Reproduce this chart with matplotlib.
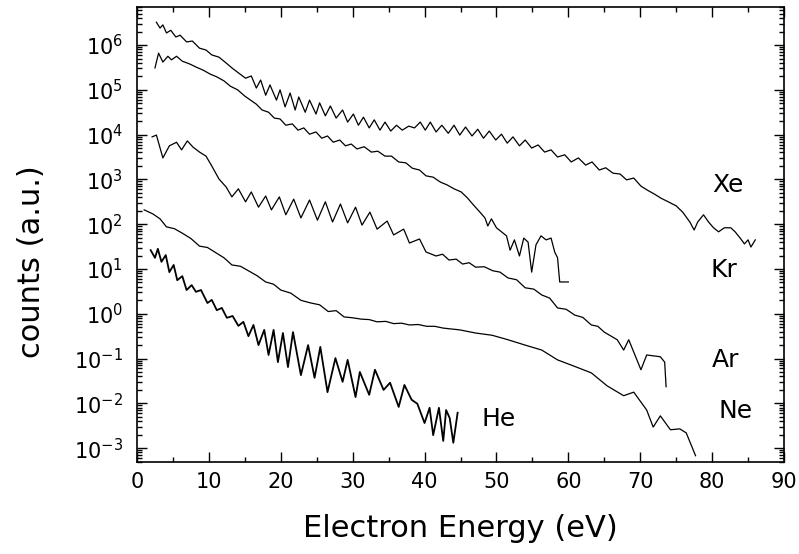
import numpy as np
import matplotlib
matplotlib.use("Agg")
import matplotlib.pyplot as plt
from matplotlib.ticker import MultipleLocator, LogLocator, NullFormatter

# --- SPECTRA (electron energy in eV, log10 of counts) ---
XE_E = [2.7, 3.2, 3.6, 4.1, 4.7, 5.4, 6.0, 6.9, 7.7, 8.7,
        9.6, 10.4, 11.4, 12.4, 13.2, 14.1, 15.1, 15.9, 16.6, 17.2,
        17.9, 18.5, 19.4, 19.9, 20.6, 21.3, 22.0, 22.5, 23.4, 24.0,
        24.9, 25.4, 26.2, 26.9, 27.7, 28.6, 29.3, 30.1, 30.8, 31.5,
        32.3, 33.0, 33.8, 34.5, 35.3, 36.1, 36.9, 37.8, 38.6, 39.4,
        40.1, 40.8, 41.6, 42.4, 43.3, 44.1, 44.9, 45.7, 46.6, 47.4,
        48.2, 49.0, 49.9, 50.7, 51.5, 52.3, 53.2, 54.0, 54.9, 55.8,
        56.7, 57.6, 58.5, 59.5, 60.4, 61.4, 62.4, 63.3, 64.3, 65.2,
        66.2, 67.2, 68.1, 69.1, 70.1, 71.0, 72.0, 72.9, 73.9, 75.0,
        75.9, 76.9, 77.5, 78.0, 78.8, 79.5, 80.2, 80.9, 81.7, 82.6,
        83.2, 83.9, 84.5, 85.0, 85.4, 86.0]
XE_L = [6.51, 6.38, 6.45, 6.27, 6.33, 6.18, 6.22, 6.07, 6.09, 5.93,
        5.89, 5.78, 5.73, 5.60, 5.49, 5.38, 5.26, 5.31, 5.04, 5.22,
        4.88, 5.11, 4.77, 5.00, 4.62, 4.93, 4.55, 4.84, 4.50, 4.77,
        4.46, 4.71, 4.42, 4.64, 4.37, 4.55, 4.28, 4.46, 4.21, 4.39,
        4.15, 4.33, 4.10, 4.28, 4.08, 4.21, 4.10, 4.19, 4.15, 4.28,
        4.10, 4.28, 4.06, 4.21, 4.03, 4.21, 3.99, 4.17, 3.97, 4.12,
        3.92, 4.08, 3.88, 4.01, 3.81, 3.95, 3.75, 3.88, 3.70, 3.77,
        3.61, 3.66, 3.50, 3.55, 3.39, 3.48, 3.32, 3.39, 3.21, 3.26,
        3.14, 3.12, 2.99, 3.03, 2.85, 2.76, 2.67, 2.58, 2.50, 2.41,
        2.27, 2.05, 1.87, 2.05, 2.21, 2.05, 1.92, 1.83, 1.92, 1.92,
        1.83, 1.69, 1.56, 1.65, 1.49, 1.65]

KR_E = [2.5, 3.0, 3.6, 4.3, 4.8, 5.5, 6.3, 7.3, 8.2, 9.2,
        10.2, 11.1, 12.1, 13.0, 14.0, 15.0, 15.8, 16.6, 17.4, 18.3,
        19.1, 19.9, 20.7, 21.6, 22.4, 23.2, 24.0, 24.9, 25.7, 26.5,
        27.3, 28.2, 29.0, 29.8, 30.6, 31.6, 32.6, 33.5, 34.5, 35.4,
        36.4, 37.4, 38.3, 39.3, 40.2, 41.2, 42.2, 43.1, 44.1, 45.1,
        46.0, 46.8, 47.7, 48.4, 48.8, 49.3, 50.0, 50.7, 51.4, 51.9,
        52.5, 53.2, 53.8, 54.4, 54.9, 55.5, 56.2, 56.9, 57.6, 58.1,
        58.5, 58.8, 60.0]
KR_L = [5.49, 5.82, 5.62, 5.75, 5.67, 5.75, 5.64, 5.58, 5.51, 5.44,
        5.35, 5.29, 5.20, 5.08, 5.00, 4.86, 4.77, 4.68, 4.55, 4.50,
        4.37, 4.35, 4.21, 4.24, 4.10, 4.15, 4.01, 4.06, 3.92, 3.97,
        3.83, 3.88, 3.75, 3.79, 3.68, 3.73, 3.61, 3.63, 3.52, 3.52,
        3.39, 3.37, 3.25, 3.21, 3.08, 3.05, 2.94, 2.88, 2.79, 2.72,
        2.58, 2.43, 2.27, 2.14, 1.96, 2.12, 1.92, 1.83, 1.74, 1.42,
        1.65, 1.29, 1.69, 1.60, 0.93, 1.54, 1.74, 1.65, 1.69, 1.38,
        1.25, 0.71, 0.71]

AR_E = [2.1, 2.7, 3.6, 4.5, 5.5, 6.2, 7.0, 7.8, 8.7, 9.6,
        10.4, 11.4, 12.4, 13.2, 14.1, 15.1, 15.9, 16.9, 17.9, 18.7,
        19.8, 20.7, 21.8, 22.8, 24.0, 25.1, 26.2, 27.2, 28.3, 29.3,
        30.4, 31.3, 32.4, 33.4, 34.8, 35.7, 37.1, 37.9, 39.3, 40.2,
        41.6, 42.5, 43.4, 44.4, 45.3, 46.2, 47.1, 48.3, 49.5, 50.5,
        51.6, 52.8, 54.0, 55.2, 56.3, 57.4, 58.5, 59.7, 60.9, 62.0,
        63.2, 64.1, 65.0, 66.8, 67.7, 68.4, 70.1, 70.9, 72.8, 73.4,
        73.6]
AR_L = [3.95, 3.99, 3.48, 3.75, 3.83, 3.66, 3.86, 3.72, 3.61, 3.52,
        3.30, 3.01, 2.83, 2.61, 2.79, 2.50, 2.72, 2.38, 2.63, 2.32,
        2.61, 2.21, 2.56, 2.14, 2.54, 2.09, 2.50, 2.05, 2.45, 2.03,
        2.38, 1.98, 2.27, 1.89, 2.07, 1.76, 1.89, 1.58, 1.67, 1.38,
        1.29, 1.33, 1.20, 1.22, 1.11, 1.14, 1.04, 1.05, 0.96, 0.93,
        0.80, 0.76, 0.58, 0.55, 0.42, 0.35, 0.13, 0.10, -0.03, -0.08,
        -0.25, -0.28, -0.41, -0.58, -0.81, -0.58, -1.25, -0.92, -0.96, -1.08,
        -1.63]

NE_E = [1.0, 2.2, 3.2, 4.1, 5.2, 6.3, 7.5, 8.7, 9.8, 11.0,
        12.1, 13.2, 14.4, 15.5, 16.7, 17.9, 19.0, 20.0, 21.4, 22.8,
        24.2, 25.4, 26.6, 27.7, 28.8, 30.0, 31.2, 32.3, 33.4, 34.6,
        35.7, 36.8, 37.9, 39.1, 40.3, 41.4, 42.6, 44.9, 47.1, 49.4,
        51.6, 54.0, 56.3, 58.5, 60.8, 63.2, 65.4, 67.7, 69.1, 70.9,
        71.8, 72.8, 74.2, 75.5, 76.4, 77.7]
NE_L = [2.32, 2.23, 2.12, 1.94, 1.90, 1.80, 1.68, 1.51, 1.48, 1.36,
        1.25, 1.09, 1.06, 0.96, 0.85, 0.71, 0.66, 0.53, 0.46, 0.30,
        0.24, 0.20, 0.05, 0.07, -0.07, -0.09, -0.12, -0.13, -0.18, -0.17,
        -0.22, -0.21, -0.25, -0.24, -0.28, -0.28, -0.32, -0.36, -0.43, -0.48,
        -0.58, -0.70, -0.81, -1.03, -1.17, -1.32, -1.61, -1.83, -1.75, -2.15,
        -2.53, -2.28, -2.59, -2.57, -2.66, -3.17]

HE_E = [1.9, 2.5, 2.9, 3.4, 4.0, 4.5, 5.1, 5.6, 6.3, 6.9,
        7.6, 8.2, 8.9, 9.8, 10.4, 11.1, 11.8, 12.5, 13.3, 14.1,
        14.8, 15.5, 16.2, 16.9, 17.7, 18.3, 19.0, 19.6, 20.3, 21.0,
        21.7, 22.8, 23.8, 24.7, 25.5, 26.5, 27.6, 28.6, 29.3, 30.4,
        31.0, 32.3, 33.1, 34.3, 35.2, 36.4, 37.2, 38.2, 39.0, 40.0,
        40.7, 41.2, 42.0, 42.6, 43.0, 43.5, 44.0, 44.6]
HE_L = [1.42, 1.25, 1.45, 1.16, 1.31, 0.93, 1.09, 0.75, 0.84, 0.53,
        0.64, 0.49, 0.53, 0.24, 0.31, 0.08, 0.13, -0.09, -0.05, -0.27,
        -0.18, -0.50, -0.25, -0.70, -0.36, -0.92, -0.36, -1.08, -0.43, -1.19,
        -0.41, -1.37, -0.70, -1.43, -0.74, -1.75, -0.99, -1.52, -1.03, -1.86,
        -1.30, -1.81, -1.25, -1.70, -1.54, -2.08, -1.59, -1.92, -2.01, -2.44,
        -2.10, -2.71, -2.10, -2.84, -2.15, -2.33, -2.88, -2.21]

# label name, energy, log10 counts
GAS_LABELS = [("Xe", 82.2, 2.88), ("Kr", 81.6, 0.98), ("Ar", 81.8, -1.03),
              ("Ne", 83.2, -2.17), ("He", 50.3, -2.35)]

plt.rcParams['font.family'] = ['DejaVu Sans']

fig = plt.figure(figsize=(7.99, 5.54), dpi=100)
ax = fig.add_axes([137 / 799, 92 / 554, 647 / 799, 455 / 554])

for e, l, lw in [(XE_E, XE_L, 0.9), (KR_E, KR_L, 0.9), (AR_E, AR_L, 0.9),
                 (NE_E, NE_L, 0.9), (HE_E, HE_L, 1.3)]:
    ax.plot(e, 10.0 ** np.array(l), color='black', lw=lw)

for name, e, l in GAS_LABELS:
    ax.text(e, 10.0 ** l, name, fontsize=18, ha='center', va='center')

ax.set_yscale('log')
ax.set_xlim(0, 90)
ax.set_ylim(10 ** -3.31, 10 ** 6.85)

ax.xaxis.set_major_locator(MultipleLocator(10))
ax.xaxis.set_minor_locator(MultipleLocator(5))
ax.yaxis.set_major_locator(LogLocator(base=10, numticks=20))
ax.yaxis.set_minor_locator(LogLocator(base=10, subs=np.arange(2, 10), numticks=20))
ax.yaxis.set_minor_formatter(NullFormatter())

ax.tick_params(which='both', direction='in', top=True, right=True, width=1.0)
ax.tick_params(which='major', length=7, labelsize=15)
ax.tick_params(which='minor', length=3.5)
ax.tick_params(axis='x', pad=7)
ax.tick_params(axis='y', pad=10)
for s in ax.spines.values():
    s.set_linewidth(1.2)

ax.set_xlabel('Electron Energy (eV)', fontsize=22, labelpad=16)
fig.text(32 / 799, 1 - 262 / 554, 'counts (a.u.)', fontsize=22,
         rotation=90, ha='center', va='center')

fig.savefig('out.png', dpi=100)
